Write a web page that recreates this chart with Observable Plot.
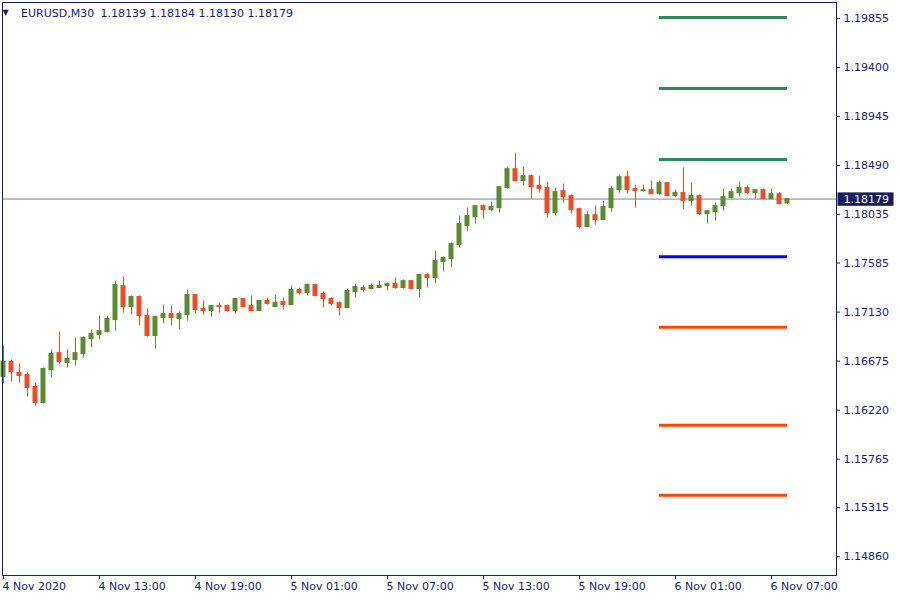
<!DOCTYPE html>
<html><head><meta charset="utf-8">
<script src="https://cdn.jsdelivr.net/npm/d3@7"></script>
<script src="https://cdn.jsdelivr.net/npm/@observablehq/plot@0.6"></script>
<style>html,body{margin:0;padding:0;background:#fff;} svg{display:block;}</style>
</head><body><div id="chart"></div>
<script>
const symbolLabel = "EURUSD,M30";
const ohlcLabel = "1.18139 1.18184 1.18130 1.18179";
const lastClose = 1.18179;

const opens = [1.16528,1.16667,1.16565,1.16546,1.16435,1.16286,1.16593,1.16750,1.16657,1.16685,
1.16741,1.16880,1.16917,1.16945,1.17056,1.17372,1.17177,1.17270,1.17093,1.16908,
1.17075,1.17112,1.17066,1.17103,1.17288,1.17158,1.17140,1.17186,1.17186,1.17140,
1.17251,1.17186,1.17140,1.17233,1.17177,1.17223,1.17196,1.17335,1.17307,1.17381,
1.17298,1.17251,1.17214,1.17168,1.17316,1.17353,1.17344,1.17353,1.17372,1.17390,
1.17353,1.17418,1.17344,1.17474,1.17446,1.17594,1.17622,1.17752,1.17928,1.18012,
1.18114,1.18077,1.18095,1.18281,1.18457,1.18346,1.18392,1.18300,1.18281,1.18049,
1.18253,1.18207,1.18086,1.17919,1.18030,1.17984,1.18095,1.18262,1.18383,1.18272,
1.18253,1.18262,1.18225,1.18327,1.18207,1.18235,1.18160,1.18207,1.18040,1.18058,
1.18114,1.18188,1.18235,1.18281,1.18235,1.18262,1.18179,1.18225,1.18139];
const highs = [1.16815,1.16685,1.16648,1.16565,1.16472,1.16611,1.16778,1.16945,1.16778,1.16889,
1.16899,1.16964,1.17094,1.17094,1.17418,1.17455,1.17279,1.17279,1.17158,1.17093,
1.17196,1.17186,1.17131,1.17335,1.17288,1.17233,1.17186,1.17214,1.17196,1.17251,
1.17251,1.17279,1.17233,1.17261,1.17288,1.17261,1.17372,1.17353,1.17390,1.17390,
1.17316,1.17261,1.17223,1.17344,1.17390,1.17372,1.17390,1.17418,1.17400,1.17446,
1.17427,1.17418,1.17483,1.17492,1.17697,1.17641,1.17771,1.18021,1.18095,1.18114,
1.18123,1.18151,1.18290,1.18476,1.18606,1.18476,1.18402,1.18392,1.18337,1.18281,
1.18318,1.18216,1.18095,1.18067,1.18114,1.18160,1.18300,1.18402,1.18439,1.18309,
1.18309,1.18346,1.18346,1.18327,1.18262,1.18467,1.18327,1.18216,1.18067,1.18142,
1.18272,1.18272,1.18337,1.18300,1.18262,1.18272,1.18272,1.18235,1.18184];
const lows = [1.16463,1.16481,1.16472,1.16342,1.16259,1.16277,1.16518,1.16648,1.16611,1.16630,
1.16704,1.16796,1.16871,1.16936,1.16954,1.17121,1.17103,1.17001,1.16899,1.16787,
1.17019,1.17001,1.16964,1.17047,1.17112,1.17103,1.17084,1.17121,1.17131,1.17112,
1.17177,1.17140,1.17140,1.17196,1.17177,1.17149,1.17196,1.17288,1.17279,1.17279,
1.17168,1.17186,1.17093,1.17168,1.17261,1.17316,1.17335,1.17353,1.17326,1.17344,
1.17344,1.17335,1.17261,1.17353,1.17390,1.17502,1.17539,1.17724,1.17882,1.17947,
1.17993,1.18067,1.18049,1.18272,1.18346,1.18300,1.18179,1.18235,1.18003,1.18021,
1.18142,1.18040,1.17901,1.17919,1.17938,1.17984,1.18058,1.18235,1.18225,1.18095,
1.18244,1.18225,1.18216,1.18207,1.18197,1.18077,1.18114,1.18030,1.17947,1.17975,
1.18067,1.18179,1.18197,1.18225,1.18179,1.18179,1.18179,1.18132,1.18130];
const closes = [1.16667,1.16574,1.16537,1.16426,1.16286,1.16602,1.16741,1.16667,1.16695,1.16750,
1.16889,1.16927,1.16954,1.17066,1.17381,1.17177,1.17270,1.17093,1.16908,1.17084,
1.17112,1.17075,1.17112,1.17288,1.17149,1.17140,1.17186,1.17177,1.17140,1.17251,
1.17177,1.17140,1.17233,1.17205,1.17214,1.17196,1.17335,1.17307,1.17381,1.17279,
1.17251,1.17205,1.17168,1.17326,1.17363,1.17335,1.17372,1.17372,1.17390,1.17353,
1.17418,1.17344,1.17474,1.17446,1.17604,1.17632,1.17761,1.17947,1.18021,1.18114,
1.18077,1.18105,1.18290,1.18457,1.18346,1.18392,1.18290,1.18272,1.18049,1.18244,
1.18197,1.18077,1.17919,1.18030,1.17984,1.18105,1.18272,1.18383,1.18262,1.18253,
1.18262,1.18225,1.18327,1.18207,1.18235,1.18160,1.18207,1.18040,1.18067,1.18114,
1.18197,1.18244,1.18281,1.18235,1.18262,1.18179,1.18225,1.18132,1.18179];

const pivotLevels = [1.19865, 1.19206, 1.18547, 1.17644, 1.16989, 1.16080, 1.15430];
const pivotColors = ["#2e8b57","#2e8b57","#2e8b57","#0000ff","#ff4500","#ff4500","#ff4500"];
const pivotFromBar = 82, pivotToBar = 98;

const yTicks = [1.19855,1.19400,1.18945,1.18490,1.18035,1.17585,1.17130,1.16675,1.16220,1.15765,1.15315,1.14860];
const xTickBars = [0,12,24,36,48,60,72,84,96];
const xTickLabels = ["4 Nov 2020","4 Nov 13:00","4 Nov 19:00","5 Nov 01:00","5 Nov 07:00","5 Nov 13:00","5 Nov 19:00","6 Nov 01:00","6 Nov 07:00"];

const NAVY = "#1a1a78";
const UP = "#588c30", DOWN = "#f04c24";

const bars = opens.map((o, i) => ({i, open: o, high: highs[i], low: lows[i], close: closes[i],
  col: closes[i] >= o ? UP : DOWN}));
const pivots = pivotLevels.map((v, k) => ({v, c: pivotColors[k]}));

const chart = Plot.plot({
  width: 900, height: 600,
  marginLeft: 2, marginTop: 2, marginRight: 64, marginBottom: 25,
  style: {fontFamily: "DejaVu Sans", fontSize: "11px", color: NAVY, background: "#ffffff", overflow: "visible"},
  x: {domain: [-0.125, 104.125], axis: "bottom", ticks: xTickBars,
      tickFormat: d => xTickLabels[xTickBars.indexOf(d)], tickSize: 4, tickPadding: 3, label: null},
  y: {domain: [1.146856, 1.200035], axis: "right", ticks: yTicks,
      tickFormat: d3.format(".5f"), tickSize: 3, tickPadding: 4, label: null},
  color: {type: "identity"},
  marks: [
    Plot.ruleY([lastClose], {stroke: "#7d8590", strokeWidth: 1}),
    Plot.ruleY(pivots, {y: "v", x1: pivotFromBar, x2: pivotToBar, stroke: "c", strokeWidth: 3}),
    Plot.ruleX(bars, {x: "i", y1: "low", y2: "high", stroke: "col", strokeWidth: 1}),
    Plot.rect(bars, {x1: d => d.i - 0.3125, x2: d => d.i + 0.3125, y1: "open", y2: "close",
      fill: "col", insetTop: -0.5, insetBottom: -0.5}),
    Plot.frame({stroke: NAVY}),
    Plot.text(["▼"], {frameAnchor: "top-left", textAnchor: "start", lineAnchor: "top", dx: 0, dy: 7, fontSize: 8, fill: NAVY}),
    Plot.text([symbolLabel], {frameAnchor: "top-left", textAnchor: "start", lineAnchor: "top", dx: 18.5, dy: 6.5, fill: NAVY}),
    Plot.text([ohlcLabel], {frameAnchor: "top-left", textAnchor: "start", lineAnchor: "top", dx: 98, dy: 6.5, fill: NAVY}),
    Plot.text([lastClose], {y: d => d, text: d => d.toFixed(5), frameAnchor: "right", textAnchor: "start",
      dx: 7, fill: "#ffffff"})
  ]
});

document.getElementById("chart").appendChild(chart);

// left-align the time labels at their ticks, as in the terminal
d3.select(chart).selectAll('g[aria-label^="x-axis"] text').attr("text-anchor", "start").attr("dx", "-1");

// dark box behind the current price label
const py = chart.scale("y").apply(lastClose);
const xr = chart.scale("x").range;
d3.select(chart).append("rect")
  .attr("x", xr[1] + 1.5).attr("y", py + 0.5 - 6.7)
  .attr("width", 56).attr("height", 13.4)
  .attr("fill", "#1b1b60");
const labelText = d3.select(chart).selectAll("text")
  .filter(function() { return this.textContent === lastClose.toFixed(5); });
labelText.each(function() { d3.select(this.parentNode).raise(); });
</script>
</body></html>
